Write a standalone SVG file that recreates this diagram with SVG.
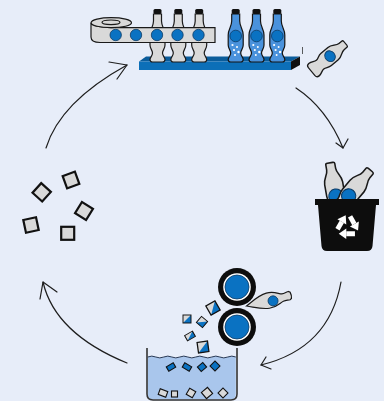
<svg xmlns="http://www.w3.org/2000/svg" xmlns:xlink="http://www.w3.org/1999/xlink" width="384" height="401" viewBox="0 0 384 401">
  <style>
    .ln { fill: none; stroke: #1e1e1e; stroke-width: 1.2; stroke-linecap: round; stroke-linejoin: round; }
    .grey { fill: #d9d9d9; stroke: #1a1a1a; stroke-width: 1.2; }
    .label { fill: #0a72c2; stroke: #0b3b66; stroke-width: 0.8; }
    .flake { fill: #d9d9d9; stroke: #111; stroke-width: 2.2; }
    .chipb { fill: #0a72c2; stroke: #111; stroke-width: 1.1; }
    .chipg { fill: #d9d9d9; stroke: #111; stroke-width: 1.1; }
  </style>
  <defs>
    <!-- upright bottle with cap, origin at cap top centre -->
    <path id="bottleUp" d="M-4,5 L-4,12 C-4,18 -7.5,20 -7.5,26 L-7.5,36 C-7.5,40 -5,41 -5,44 C-5,47 -7.5,48 -7.5,50.5 Q-7.5,53 -5,53 L5,53 Q7.5,53 7.5,50.5 C7.5,48 5,47 5,44 C5,41 7.5,40 7.5,36 L7.5,26 C7.5,20 4,18 4,12 L4,5 Z"/>
    <!-- empty bottle lying along +x (neck to the right) -->
    <path id="bottleSide" d="M-22,-4.5 Q-22,-7 -19,-7 C-15,-7 -14,-5 -11,-5 C-8,-5 -7,-7 -3,-7 L6,-7 C11,-7 13,-3.5 17,-3.5 L21,-3.5 Q22,-3.5 22,-2 L22,2 Q22,3.5 21,3.5 L17,3.5 C13,3.5 11,7 6,7 L-3,7 C-7,7 -8,5 -11,5 C-14,5 -15,7 -19,7 Q-22,7 -22,4.5 Z"/>
    <!-- half-shredded chip: grey with blue corner -->
    <g id="chip">
      <rect x="-5" y="-5" width="10" height="10" fill="#d9d9d9"/>
      <polygon points="5,-5 5,5 -5,5" fill="#0a72c2"/>
      <rect x="-5" y="-5" width="10" height="10" fill="none" stroke="#111" stroke-width="1.2"/>
    </g>
    <!-- one arm of the recycling symbol -->
    <g id="recArm">
      <path d="M1.6,-6.3 L4.3,-1.6" fill="none" stroke="#fff" stroke-width="3"/>
      <polygon points="7.1,-3.2 6.6,2.5 1.5,0" fill="#fff"/>
    </g>
  </defs>

  <rect x="0" y="0" width="384" height="401" fill="#e7edf9"/>

  <!-- connectors -->
  <g id="connectors" class="ln">
    <path d="M46,148 Q60,102 127,65"/>
    <path d="M109,62 L127,65 L117,79"/>
    <path d="M296,88 Q326.5,108 343,148"/>
    <path d="M336,143 L343,148 L348,139"/>
    <path d="M341,282 Q329,348.5 261,365"/>
    <path d="M266,357 L261,365 L271,369"/>
    <path d="M127,363 Q55,333.5 43,282"/>
    <path d="M40,299 L43,282 L57,292"/>
  </g>

  <!-- bottling line -->
  <g id="bottling">
    <!-- shelf -->
    <polygon points="146,56.5 300,56.5 291,61.5 139,61.5" fill="#0a5c9b"/>
    <rect x="139" y="61.5" width="152" height="8.5" fill="#0c6fb8"/>
    <polygon points="291,61.5 300,56.5 300,65 291,70" fill="#111"/>
    <!-- empty bottles -->
    <g class="grey">
      <use xlink:href="#bottleUp" transform="translate(157.5,9)"/>
      <use xlink:href="#bottleUp" transform="translate(178.3,9)"/>
      <use xlink:href="#bottleUp" transform="translate(199.2,9)"/>
    </g>
    <g fill="#111">
      <rect x="153.5" y="9" width="8" height="5" rx="1.5"/>
      <rect x="174.3" y="9" width="8" height="5" rx="1.5"/>
      <rect x="195.2" y="9" width="8" height="5" rx="1.5"/>
    </g>
    <!-- label roll and belt -->
    <path class="grey" d="M91,22.7 A20,5 0 0 0 111,27.7 H215 V42.5 H100 Q91,42.5 91,37 Z"/>
    <ellipse class="grey" cx="111.3" cy="22.7" rx="20.2" ry="5"/>
    <ellipse class="grey" cx="111" cy="22.3" rx="9" ry="2.3"/>
    <g class="label">
      <circle cx="115.7" cy="35" r="5.7"/>
      <circle cx="136" cy="35" r="5.7"/>
      <circle cx="157" cy="35" r="5.7"/>
      <circle cx="177.5" cy="35" r="5.7"/>
      <circle cx="198.5" cy="35" r="5.7"/>
    </g>
    <!-- filled bottles -->
    <g fill="#4a92dc" stroke="#151515" stroke-width="1.2">
      <use xlink:href="#bottleUp" transform="translate(235.7,9)"/>
      <use xlink:href="#bottleUp" transform="translate(256.5,9)"/>
      <use xlink:href="#bottleUp" transform="translate(277.3,9)"/>
    </g>
    <g fill="#111">
      <rect x="231.7" y="9" width="8" height="5" rx="1.5"/>
      <rect x="252.5" y="9" width="8" height="5" rx="1.5"/>
      <rect x="273.3" y="9" width="8" height="5" rx="1.5"/>
    </g>
    <g class="label">
      <circle cx="235.7" cy="36" r="5.8"/>
      <circle cx="256.5" cy="36" r="5.8"/>
      <circle cx="277.3" cy="36" r="5.8"/>
    </g>
    <g fill="#fff">
      <circle cx="232.5" cy="45" r="1.1"/><circle cx="237" cy="47" r="1"/><circle cx="234" cy="50" r="1.1"/><circle cx="238.5" cy="52" r="1.2"/><circle cx="235" cy="55" r="1"/>
      <circle cx="253.3" cy="45" r="1.1"/><circle cx="257.8" cy="47" r="1"/><circle cx="254.8" cy="50" r="1.1"/><circle cx="259.3" cy="52" r="1.2"/><circle cx="255.8" cy="55" r="1"/>
      <circle cx="274.1" cy="45" r="1.1"/><circle cx="278.6" cy="47" r="1"/><circle cx="275.6" cy="50" r="1.1"/><circle cx="280.1" cy="52" r="1.2"/><circle cx="276.6" cy="55" r="1"/>
    </g>
    <line x1="302.5" y1="47" x2="302.5" y2="54" stroke="#333" stroke-width="0.8"/>
  </g>

  <!-- used bottle -->
  <g id="used-bottle" transform="translate(328.5,57.5) rotate(-40) scale(1,1.15)">
    <use xlink:href="#bottleSide" class="grey"/>
    <circle class="label" cx="2" cy="0" r="5"/>
  </g>

  <!-- recycling bin -->
  <g id="recycle-bin">
    <g transform="translate(335,191) rotate(-100) scale(1.3)">
      <use xlink:href="#bottleSide" class="grey"/>
      <circle class="label" cx="-4" cy="0" r="5.5"/>
    </g>
    <g transform="translate(352,192) rotate(-50) scale(1.3)">
      <use xlink:href="#bottleSide" class="grey"/>
      <circle class="label" cx="-4" cy="0" r="5.5"/>
    </g>
    <path d="M315,199 H379 V205 H376 L372.5,246 Q372,251 367,251 H327 Q322,251 321.5,246 L318,205 H315 Z" fill="#0d0d0d"/>
    <g transform="translate(347.5,226.5) scale(1.6)">
      <use xlink:href="#recArm"/>
      <use xlink:href="#recArm" transform="rotate(120)"/>
      <use xlink:href="#recArm" transform="rotate(240)"/>
    </g>
  </g>

  <!-- shredding and washing -->
  <g id="shredder">
    <g transform="translate(270,301) rotate(-12)">
      <path class="grey" d="M-24,0 C-16,-4 -10,-8 -2,-8.5 C6,-9 10,-5 13,-4.5 C16,-4.5 18,-5.5 20,-5.5 L21.5,-4.5 Q22.5,-1 21.5,2 L20,3 C17,3 16,2.5 13,3 C9,4 6,7.5 -2,7 C-10,6.5 -16,3 -24,0 Z"/>
      <circle class="label" cx="3" cy="0.5" r="5"/>
    </g>
    <circle cx="237" cy="287" r="19" fill="#0d0d0d"/>
    <circle cx="237" cy="287" r="13.8" fill="#fff"/>
    <circle class="label" cx="237" cy="287" r="12"/>
    <circle cx="237" cy="327" r="19" fill="#0d0d0d"/>
    <circle cx="237" cy="327" r="13.8" fill="#fff"/>
    <circle class="label" cx="237" cy="327" r="12"/>
    <!-- falling chips -->
    <use xlink:href="#chip" transform="translate(213,308) rotate(-30) scale(1.05)"/>
    <use xlink:href="#chip" transform="translate(187,319) scale(0.8)"/>
    <use xlink:href="#chip" transform="translate(202,322) rotate(40) scale(0.8)"/>
    <use xlink:href="#chip" transform="translate(190,336) rotate(-30) scale(0.9,0.6)"/>
    <use xlink:href="#chip" transform="translate(203,347) rotate(-8) scale(1.05)"/>
  </g>

  <g id="wash-tank">
    <path d="M147.8,357 q4,-1.8 8,0 t8,0 t8,0 t8,0 t8,0 t8,0 t8,0 t8,0 t8,0 t8,0 t8,0 V394 Q235.8,399.3 231,399.3 H153 Q147.8,399.3 147.8,394 Z" fill="#a9c6ec"/>
    <path d="M147.8,357 q4,-1.8 8,0 t8,0 t8,0 t8,0 t8,0 t8,0 t8,0 t8,0 t8,0 t8,0 t8,0" fill="none" stroke="#2a3a55" stroke-width="1"/>
    <path d="M147,348 V394 Q147,400 153,400 H231 Q237,400 237,394 V348" fill="none" stroke="#333" stroke-width="1.6"/>
    <rect class="chipb" x="-4" y="-2.5" width="8" height="5" transform="translate(171,367) rotate(-30)"/>
    <rect class="chipb" x="-4" y="-2.5" width="8" height="5" transform="translate(187,367) rotate(30)"/>
    <rect class="chipb" x="-3.5" y="-3" width="7" height="6" transform="translate(202,367) rotate(-40)"/>
    <rect class="chipb" x="-3.5" y="-3.5" width="7" height="7" transform="translate(215,366) rotate(45)"/>
    <rect class="chipg" x="-4" y="-3" width="8" height="6" transform="translate(163,393) rotate(20)"/>
    <rect class="chipg" x="-3" y="-3" width="6" height="6" transform="translate(174.5,394)"/>
    <rect class="chipg" x="-3.5" y="-3.5" width="7" height="7" transform="translate(191,393) rotate(30)"/>
    <rect class="chipg" x="-4" y="-4" width="8" height="8" transform="translate(207,393) rotate(-40)"/>
    <rect class="chipg" x="-3.5" y="-3.5" width="7" height="7" transform="translate(223,393) rotate(45)"/>
  </g>

  <!-- cleaned flakes -->
  <g id="flakes">
    <rect class="flake" x="-6.5" y="-6.5" width="13" height="13" transform="translate(41.7,192.3) rotate(42)"/>
    <rect class="flake" x="-6.5" y="-6.5" width="13" height="13" transform="translate(71,180) rotate(-20)"/>
    <rect class="flake" x="-6.5" y="-6.5" width="13" height="13" transform="translate(84,211) rotate(32)"/>
    <rect class="flake" x="-6.5" y="-6.5" width="13" height="13" transform="translate(31,225) rotate(-12)"/>
    <rect class="flake" x="-6.5" y="-6.5" width="13" height="13" transform="translate(67.7,233.3)"/>
  </g>
</svg>
